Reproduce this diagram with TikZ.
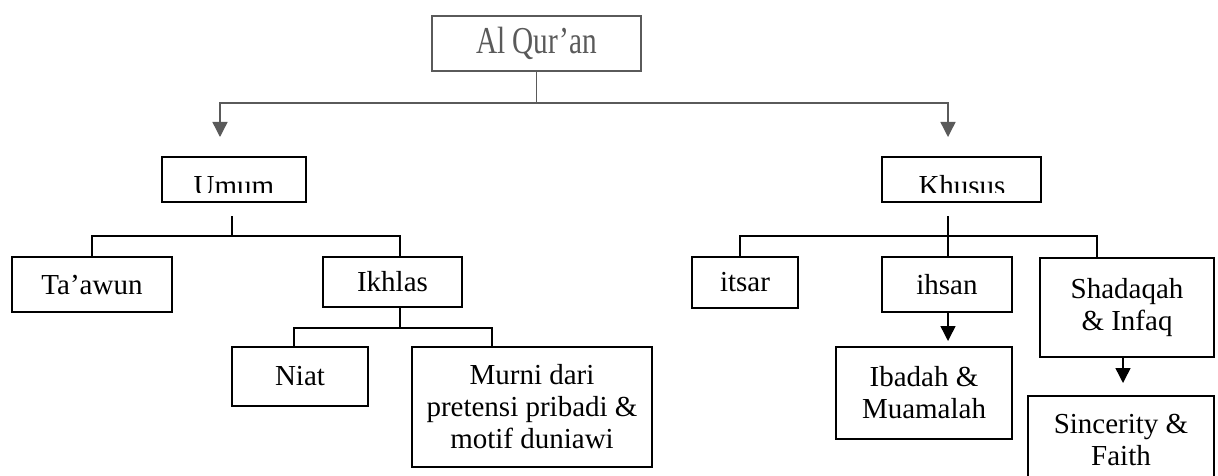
\documentclass[tikz,border=0pt]{standalone}
\usepackage{fontspec}
\setmainfont{Liberation Serif}
\usepackage{graphicx}
\usetikzlibrary{arrows.meta}
\definecolor{topgray}{HTML}{5A5A5A}
\tikzset{
  box/.style={draw=black, line width=1.5pt, rectangle, inner sep=0pt, align=center,
              font=\fontsize{29}{32}\selectfont},
  topbox/.style={box, draw=topgray, text=topgray},
  link/.style={draw=black, line width=1.5pt},
  toplink/.style={draw=topgray, line width=1.4pt},
  downarrow/.style={-{Triangle[length=15pt,width=15pt]}},
  lbl/.style={inner sep=0pt, anchor=base, font=\fontsize{29}{32}\selectfont}
}
\begin{document}
\begin{tikzpicture}[x=1pt,y=-1pt]
\clip (0,0) rectangle (1218,476);
\fill[white] (0,0) rectangle (1218,476);

% root
\node[topbox, minimum width=209pt, minimum height=55pt] (quran) at (536.5,43.5)
  {\fontsize{38}{40}\selectfont\scalebox{0.77}[1]{Al Qur’an}};

% second level (labels cut at the lower edge)
\node[box, minimum width=144pt, minimum height=45pt] (umum) at (234,179.5) {};
\node[box, minimum width=159pt, minimum height=45pt] (khusus) at (961.5,179.5) {};
\begin{scope}
  \clip (150,150) rectangle (1060,192);
  \node[lbl] (umumtxt) at (234,195) {Umum};
  \node[lbl] (khusustxt) at (962,195) {Khusus};
\end{scope}

% third level
\node[box, minimum width=160pt, minimum height=55pt] (taawun) at (92,284.5) {Ta’awun};
\node[box, minimum width=139pt, minimum height=50pt] (ikhlas) at (392.5,282) {Ikhlas};
\node[box, minimum width=106pt, minimum height=51pt] (itsar) at (745,282.5) {itsar};
\node[box, minimum width=130pt, minimum height=55pt] (ihsan) at (947,284.5) {ihsan};
\node[box, minimum width=174pt, minimum height=99pt] (shadaqah) at (1127,307.5) {Shadaqah\\\& Infaq};

% fourth level
\node[box, minimum width=136pt, minimum height=59pt] (niat) at (300,376.5) {Niat};
\node[box, minimum width=240pt, minimum height=120pt] (murni) at (532,407) {Murni dari\\pretensi pribadi \&\\motif duniawi};
\node[box, minimum width=176pt, minimum height=92pt] (ibadah) at (924,393) {Ibadah \&\\Muamalah};
\node[box, minimum width=186pt, minimum height=88pt] (sincerity) at (1121,440) {Sincerity \&\\Faith};

% root branches
\coordinate (qbus) at (536.5,103);
\coordinate (leftend) at (220,137);
\coordinate (rightend) at (948,137);
\draw[toplink] (quran.south) -- (qbus);
\draw[toplink, downarrow] (qbus) -| (leftend);
\draw[toplink, downarrow] (qbus) -| (rightend);

% Umum branches
\coordinate (ustem) at (232,216);
\coordinate (ubus) at (232,236);
\draw[link] (ustem) -- (ubus);
\draw[link] (ubus) -| (92,257) coordinate (taawuntop);
\draw[link] (ubus) -| (400,257) coordinate (ikhlastop);

% Ikhlas branches
\coordinate (ibus) at (400,328);
\draw[link] (400,307) coordinate (ikhlasbot) -- (ibus);
\draw[link] (ibus) -| (294,347) coordinate (niattop);
\draw[link] (ibus) -| (492,347) coordinate (murnitop);

% Khusus branches
\coordinate (kstem) at (948,216);
\coordinate (kbus) at (948,236);
\draw[link] (kstem) -- (ihsan.north -| kstem);
\draw[link] (kbus) -| (740,257) coordinate (itsartop);
\draw[link] (kbus) -| (1097,258) coordinate (shadaqahtop);

% single arrows
\coordinate (ibadahtip) at (948,341);
\coordinate (sinceritytip) at (1123,383);
\draw[link, downarrow] (ihsan.south -| ibadahtip) -- (ibadahtip);
\draw[link, downarrow] (shadaqah.south -| sinceritytip) -- (sinceritytip);
\end{tikzpicture}
\end{document}
